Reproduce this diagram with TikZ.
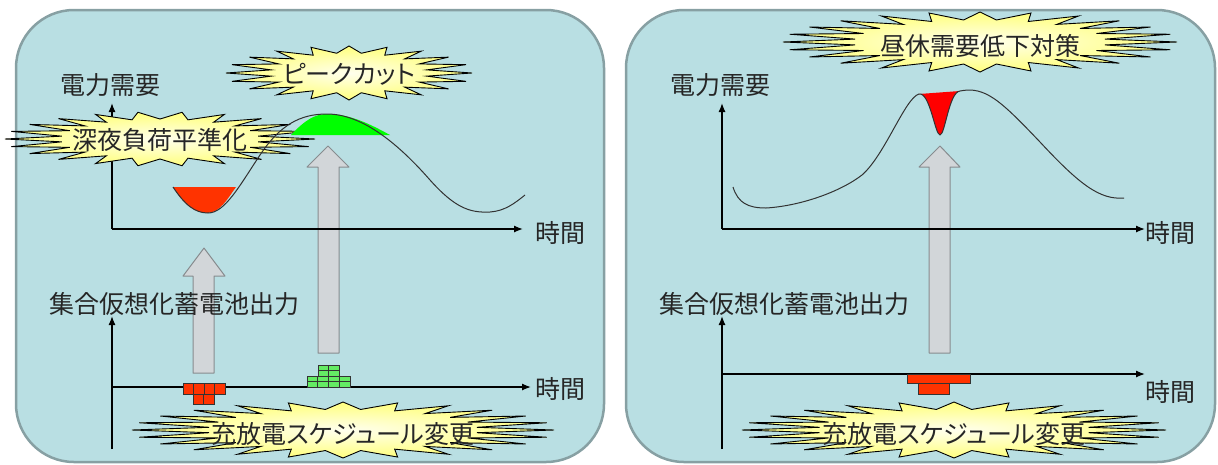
\documentclass[tikz,border=0pt]{standalone}
\usepackage{fontspec}
\newfontfamily\jp[RawFeature=+palt]{Noto Sans CJK JP}
\usetikzlibrary{arrows.meta}
\definecolor{panelfill}{RGB}{185,223,227}
\definecolor{paneldraw}{RGB}{135,160,163}
\definecolor{burstin}{RGB}{255,255,238}
\definecolor{burstout}{RGB}{255,255,125}
\definecolor{arrfill}{RGB}{210,214,217}
\definecolor{arrdraw}{RGB}{135,140,143}
\definecolor{brickred}{RGB}{255,51,0}
\definecolor{brickgreen}{RGB}{100,235,100}
\definecolor{peakgreen}{RGB}{0,255,0}
\definecolor{diperd}{RGB}{255,0,0}
\definecolor{curvecol}{RGB}{50,50,50}
\tikzset{
  panel/.style={draw=paneldraw, line width=2.5pt, fill=panelfill, rounded corners=58pt},
  axis/.style={line width=1.3pt, -{Latex[length=9pt,width=7pt]}},
  lbl/.style={font=\jp\fontsize{25}{25}\selectfont, inner sep=0pt, text=black!85},
  burst/.style={draw=black, line width=0.9pt, inner color=burstin, outer color=burstout},
  bigarrow/.style={fill=arrfill, draw=arrdraw, line width=1pt, line join=round},
  curve/.style={draw=curvecol, line width=1pt},
  brick/.style={draw=black!80, line width=0.8pt},
}
% \burstshape{cx}{cy}{A}{B}{N}
\newcommand\burstshape[5]{%
  \pgfmathtruncatemacro\lastk{2*#5-1}%
  \path[burst] plot[samples at={0,...,\lastk}, variable=\k]
    ({#1+#3*(0.82+0.18*cos(180*\k))*cos(180*\k/#5)},
     {#2+#4*(0.87+0.13*cos(180*\k))*sin(180*\k/#5)}) -- cycle;%
}
\begin{document}
\begin{tikzpicture}[x=1pt,y=-1pt]
\useasboundingbox (0,0) rectangle (1218,464);
% panels
\path[panel] (16,10) rectangle (604,462);
\path[panel] (626,10) rectangle (1215,462);

% ---------- left panel ----------
% big arrows
\path[bigarrow] (193,373) -- (193,276) -- (183,276) -- (204,248) -- (225,276) -- (214,276) -- (214,373) -- cycle;
\path[bigarrow] (318,353) -- (318,167) -- (307,167) -- (328,146) -- (349,167) -- (339,167) -- (339,353) -- cycle;
% axes
\coordinate (lyo) at (112,229);
\coordinate (lyt) at (112,103);
\coordinate (lxt) at (523,229);
\draw[axis] (lyo) -- (lyt);
\draw[axis] (lyo) -- (lxt);
\coordinate (lbo) at (112,449);
\coordinate (lbt) at (112,316);
\coordinate (lbx0) at (112,387);
\coordinate (lbxt) at (531,387);
\draw[axis] (lbo) -- (lbt);
\draw[axis] (lbx0) -- (lbxt);
% bursts
\burstshape{160}{139}{155}{27}{22}
\node[lbl] (shinya) at (160,140) {深夜負荷平準化};
\burstshape{349}{73}{123}{27}{20}
\node[lbl] (peak) at (349,74) {ピークカット};
\burstshape{343}{430}{211}{28}{24}
\node[lbl] (sched1) at (343,434) {充放電スケジュール変更};
% fills
\fill[brickred] (173,187) .. controls (184,205) and (195,213) .. (207,213)
   .. controls (220,213) and (228,198) .. (236,187) -- cycle;
\fill[peakgreen] (291,135) .. controls (305,120) and (315,114) .. (327,114)
   .. controls (350,114) and (370,124) .. (390,135) -- cycle;
% demand curve
\draw[curve] (173,187) .. controls (185,205) and (195,213) .. (208,213)
  .. controls (225,213) and (240,185) .. (260,155)
  .. controls (280,125) and (300,114) .. (327,114)
  .. controls (360,114) and (395,140) .. (430,180)
  .. controls (455,208) and (470,213) .. (490,212)
  .. controls (505,211) and (515,203) .. (525,195);
% bricks
\foreach \i in {0,...,3} \draw[brick, fill=brickred] (183+10.5*\i,383) rectangle ++(10.5,11);
\foreach \i in {0,1} \draw[brick, fill=brickred] (193+10.5*\i,394) rectangle ++(10.5,10);
\foreach \i in {0,...,3} \foreach \j in {0,1}
  \draw[brick, fill=brickgreen] (307+10.75*\i,376+5.5*\j) rectangle ++(10.75,5.5);
\foreach \i in {0,1} \foreach \j in {0,1}
  \draw[brick, fill=brickgreen] (318+10.5*\i,365+5.5*\j) rectangle ++(10.5,5.5);
% labels
\node[lbl] (ld) at (110,85) {電力需要};
\node[lbl] (lt1) at (560,233) {時間};
\node[lbl] (lo) at (174,304) {集合仮想化蓄電池出力};
\node[lbl] (lt2) at (560,389) {時間};

% ---------- right panel ----------
\path[bigarrow] (929,353) -- (929,167) -- (919,167) -- (940,146) -- (960,167) -- (950,167) -- (950,353) -- cycle;
\coordinate (ryo) at (722,229);
\coordinate (ryt) at (722,103);
\coordinate (rxt) at (1145,229);
\draw[axis] (ryo) -- (ryt);
\draw[axis] (ryo) -- (rxt);
\coordinate (rbo) at (722,449);
\coordinate (rbt) at (722,316);
\coordinate (rbx0) at (722,374);
\coordinate (rbxt) at (1145,374);
\draw[axis] (rbo) -- (rbt);
\draw[axis] (rbx0) -- (rbxt);
\burstshape{980}{42}{197}{30}{24}
\node[lbl] (hiru) at (980,46) {昼休需要低下対策};
\burstshape{954}{430}{212}{28}{24}
\node[lbl] (sched2) at (954,434) {充放電スケジュール変更};
\fill[diperd] (919,94) .. controls (930,92) and (935,135) .. (940,135)
   .. controls (945,135) and (949,92) .. (960,91) -- cycle;
\draw[curve] (733,187) .. controls (738,203) and (748,208) .. (766,208)
  .. controls (800,206) and (840,192) .. (862,175)
  .. controls (885,155) and (905,98) .. (919,94)
  .. controls (930,92) and (935,135) .. (940,135)
  .. controls (945,135) and (949,92) .. (960,91)
  .. controls (985,86) and (1000,100) .. (1040,142)
  .. controls (1080,185) and (1100,200) .. (1124,198);
\draw[brick, fill=brickred] (907,374) rectangle (970,383);
\draw[brick, fill=brickred] (918,383) rectangle (949,394);
\node[lbl] (rd) at (720,85) {電力需要};
\node[lbl] (rt1) at (1170,233) {時間};
\node[lbl] (ro) at (784,304) {集合仮想化蓄電池出力};
\node[lbl] (rt2) at (1170,392) {時間};
\end{tikzpicture}
\end{document}
